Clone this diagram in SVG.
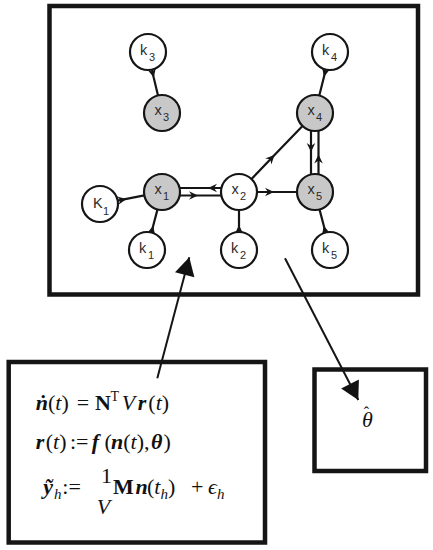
<svg xmlns="http://www.w3.org/2000/svg" width="433" height="550" viewBox="0 0 433 550">
<style>
.box{fill:none;stroke:#151515;stroke-width:4.5}
.node circle{stroke:#151515;stroke-width:2.2;fill:#fff}
.node.g circle{fill:#c8c8c8}
.lbl{font-family:"Liberation Sans",Arial,sans-serif;font-size:14.5px;fill:#2a2a2a}
.sub{font-size:11px}
.e{fill:none;stroke:#151515;stroke-width:2.2;marker-mid:url(#ah)}
.big{fill:none;stroke:#151515;stroke-width:2;marker-end:url(#bh)}
.m{font-family:"Liberation Serif","DejaVu Serif",serif;font-size:22px;fill:#111}
.bi{font-weight:bold;font-style:italic}
.it{font-style:italic}
.b{font-weight:bold}
</style>
<defs>
<marker id="ah" markerUnits="userSpaceOnUse" viewBox="-12 -7 14 14" markerWidth="14" markerHeight="14" refX="0" refY="0" orient="auto">
<path d="M0,0 L-9,-4.3 L-6,0 L-9,4.3 Z" fill="#151515"/>
</marker>
<marker id="bh" markerUnits="userSpaceOnUse" viewBox="-20 -11 22 22" markerWidth="22" markerHeight="22" refX="0" refY="0" orient="auto">
<path d="M0,0 L-18,-10 L-18,10 Z" fill="#111"/>
</marker>
</defs>

<rect class="box" x="49.5" y="6" width="368.5" height="288.5"/>
<rect class="box" x="8.7" y="362" width="256.3" height="180.5"/>
<rect class="box" x="314.5" y="369.5" width="111.5" height="101.5"/>

<g id="connectors">
<path class="e" d="M152,69.6 L153.7,77.5 L158,95.4"/>
<path class="e" d="M325.7,69.5 L324,76.8 L319.3,95.5"/>
<path class="e" d="M117.7,200.6 L126.5,198.9 L144.3,195.4"/>
<path class="e" d="M151.5,232.6 L153.2,225.8 L157.5,209.4"/>
<path class="e" d="M239,232 L239,225 L239,210"/>
<path class="e" d="M325.5,232.6 L323.8,225.8 L319.5,209.4"/>
<path class="e" d="M221.5,188 L208,188 L179.5,188"/>
<path class="e" d="M179.5,195.5 L198,195.5 L221.5,195.5"/>
<path class="e" d="M257,192 L274,192 L297,192"/>
<path class="e" d="M251.5,179 L274.5,155 L302.5,126"/>
<path class="e" d="M311,130.5 L311,152 L311,174.5"/>
<path class="e" d="M318.5,174.5 L318.5,154.5 L318.5,130.5"/>
<path class="big" d="M157.3,378.3 L189.3,257.3"/>
<path class="big" d="M285,258.3 L358.3,400"/>
</g>

<g id="k3" class="node"><circle cx="148" cy="52" r="18"/><text class="lbl" x="140" y="55">k<tspan class="sub" x="149" y="61">3</tspan></text></g>
<g id="x3" class="node g"><circle cx="162" cy="113" r="18"/><text class="lbl" x="154.5" y="115">x<tspan class="sub" x="163" y="121">3</tspan></text></g>
<g id="k4" class="node"><circle cx="330" cy="52" r="18"/><text class="lbl" x="322" y="55">k<tspan class="sub" x="331" y="61">4</tspan></text></g>
<g id="x4" class="node g"><circle cx="315" cy="113" r="18"/><text class="lbl" x="307.5" y="115">x<tspan class="sub" x="316" y="121">4</tspan></text></g>
<g id="K1" class="node"><circle cx="100" cy="204" r="18"/><text class="lbl" x="93" y="208">K<tspan class="sub" x="103" y="215">1</tspan></text></g>
<g id="x1" class="node g"><circle cx="162" cy="192" r="18"/><text class="lbl" x="154.5" y="194">x<tspan class="sub" x="163" y="200">1</tspan></text></g>
<g id="x2" class="node"><circle cx="239" cy="192" r="18"/><text class="lbl" x="231.5" y="194">x<tspan class="sub" x="240" y="200">2</tspan></text></g>
<g id="x5" class="node g"><circle cx="315" cy="192" r="18"/><text class="lbl" x="307.5" y="194">x<tspan class="sub" x="316" y="200">5</tspan></text></g>
<g id="k1" class="node"><circle cx="147" cy="250" r="18"/><text class="lbl" x="139" y="253">k<tspan class="sub" x="148" y="259">1</tspan></text></g>
<g id="k2" class="node"><circle cx="239" cy="250" r="18"/><text class="lbl" x="231" y="253">k<tspan class="sub" x="240" y="259">2</tspan></text></g>
<g id="k5" class="node"><circle cx="330" cy="250" r="18"/><text class="lbl" x="322" y="253">k<tspan class="sub" x="331" y="259">5</tspan></text></g>

<g id="model">
<text class="m" y="410"><tspan class="bi" x="35.7">ṅ</tspan><tspan x="48">(</tspan><tspan class="it">t</tspan><tspan>)</tspan><tspan x="76.7">=</tspan><tspan class="b" x="95">N</tspan><tspan x="110.5" y="401" font-size="14">T</tspan><tspan class="it" x="121.7" y="410">V</tspan><tspan class="bi" x="137.7">r</tspan><tspan x="148.3">(</tspan><tspan class="it">t</tspan><tspan>)</tspan></text>
<text class="m" y="448.5"><tspan class="bi" x="35.7">r</tspan><tspan x="45.7">(</tspan><tspan class="it">t</tspan><tspan>)</tspan><tspan x="70">:=</tspan><tspan class="bi" x="91.7">f</tspan><tspan x="104.5">(</tspan><tspan class="bi" x="111">n</tspan><tspan>(</tspan><tspan class="it">t</tspan><tspan>),</tspan><tspan class="bi" x="151">θ</tspan><tspan x="163.5">)</tspan></text>
<text class="m" y="494"><tspan class="bi" x="43.3">ỹ</tspan><tspan class="it" x="54" y="499" font-size="15">h</tspan><tspan x="62.3" y="494">:=</tspan><tspan x="101" y="483">1</tspan><tspan class="it" x="96.7" y="514">V</tspan><tspan class="b" x="113" y="494">M</tspan><tspan class="bi" x="135.5">n</tspan><tspan x="147">(</tspan><tspan class="it">t</tspan><tspan class="it" y="499" font-size="15">h</tspan><tspan y="494">)</tspan><tspan x="191">+</tspan><tspan class="it" x="208">ϵ</tspan><tspan class="it" y="499" font-size="15">h</tspan></text>
</g>

<g id="estimate">
<text class="m" x="362" y="427" font-size="21"><tspan class="it">θ</tspan><tspan dx="-9" dy="-9" font-size="16">ˆ</tspan></text>
</g>
</svg>
